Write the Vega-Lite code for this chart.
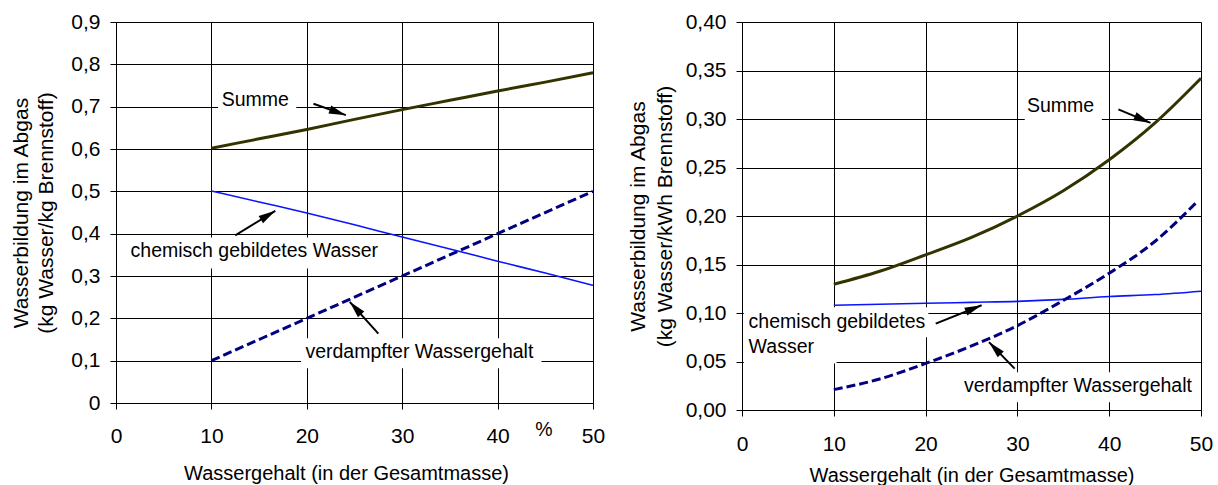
{
  "$schema": "https://vega.github.io/schema/vega-lite/v6.json",
  "background": "white",
  "padding": {"left": 10, "top": 11, "right": 5, "bottom": 5},
  "spacing": 22,
  "config": {
    "font": "Liberation Sans",
    "view": {"stroke": null},
    "axis": {
      "domainColor": "#000000", "tickColor": "#000000", "gridColor": "#000000",
      "gridOpacity": 1, "gridWidth": 1, "domainWidth": 1, "tickWidth": 1,
      "labelColor": "#000000", "titleColor": "#000000",
      "labelFont": "Liberation Sans", "titleFont": "Liberation Sans",
      "labelFontSize": 21, "titleFontSize": 20, "titleFontWeight": "normal",
      "tickSize": 6, "labelFlush": false, "labelOverlap": false
    },
    "text": {"font": "Liberation Sans", "fontSize": 19.5, "color": "#000000"}
  },
  "datasets": {
    "L_lines": [
      {"series": "Summe", "x": 10, "y": 0.602}, {"series": "Summe", "x": 15, "y": 0.624},
      {"series": "Summe", "x": 20, "y": 0.646}, {"series": "Summe", "x": 25, "y": 0.670},
      {"series": "Summe", "x": 30, "y": 0.693}, {"series": "Summe", "x": 35, "y": 0.715},
      {"series": "Summe", "x": 40, "y": 0.737}, {"series": "Summe", "x": 45, "y": 0.758},
      {"series": "Summe", "x": 50, "y": 0.780},
      {"series": "chem", "x": 10, "y": 0.501}, {"series": "chem", "x": 15, "y": 0.475},
      {"series": "chem", "x": 20, "y": 0.449}, {"series": "chem", "x": 25, "y": 0.421},
      {"series": "chem", "x": 30, "y": 0.392}, {"series": "chem", "x": 35, "y": 0.364},
      {"series": "chem", "x": 40, "y": 0.335}, {"series": "chem", "x": 45, "y": 0.307},
      {"series": "chem", "x": 50, "y": 0.278},
      {"series": "verd", "x": 10, "y": 0.1}, {"series": "verd", "x": 20, "y": 0.2},
      {"series": "verd", "x": 30, "y": 0.3}, {"series": "verd", "x": 40, "y": 0.4},
      {"series": "verd", "x": 50, "y": 0.5}
    ],
    "L_notes": [
      {"kind": "box", "x": 10.7, "x2": 18.9, "y": 0.687, "y2": 0.758},
      {"kind": "box", "x": 1.05, "x2": 27.7, "y": 0.318, "y2": 0.391},
      {"kind": "box", "x": 19.4, "x2": 44.6, "y": 0.082, "y2": 0.153},
      {"kind": "label", "x": 14.6, "y": 0.715, "text": "Summe"},
      {"kind": "label", "x": 14.5, "y": 0.358, "text": "chemisch gebildetes Wasser"},
      {"kind": "label", "x": 31.8, "y": 0.1205, "text": "verdampfter Wassergehalt"},
      {"kind": "label", "x": 44.85, "y": -0.0645, "text": "%"},
      {"kind": "arrow", "id": "summe", "x": 24.1, "y": 0.680, "x2": 20.7, "y2": 0.707},
      {"kind": "arrow", "id": "chem", "x": 16.7, "y": 0.454, "x2": 12.5, "y2": 0.396},
      {"kind": "arrow", "id": "verd", "x": 24.5, "y": 0.239, "x2": 27.5, "y2": 0.164}
    ],
    "R_lines": [
      {"series": "Summe", "x": 10, "y": 0.1296}, {"series": "Summe", "x": 15, "y": 0.143},
      {"series": "Summe", "x": 20, "y": 0.160}, {"series": "Summe", "x": 25, "y": 0.178},
      {"series": "Summe", "x": 30, "y": 0.200}, {"series": "Summe", "x": 35, "y": 0.226},
      {"series": "Summe", "x": 40, "y": 0.258}, {"series": "Summe", "x": 45, "y": 0.296},
      {"series": "Summe", "x": 50, "y": 0.342},
      {"series": "chem", "x": 10, "y": 0.108}, {"series": "chem", "x": 15, "y": 0.109},
      {"series": "chem", "x": 20, "y": 0.110}, {"series": "chem", "x": 25, "y": 0.111},
      {"series": "chem", "x": 30, "y": 0.112}, {"series": "chem", "x": 35, "y": 0.114},
      {"series": "chem", "x": 40, "y": 0.117}, {"series": "chem", "x": 45, "y": 0.119},
      {"series": "chem", "x": 50, "y": 0.1225},
      {"series": "verd", "x": 10, "y": 0.021}, {"series": "verd", "x": 15, "y": 0.032},
      {"series": "verd", "x": 20, "y": 0.048}, {"series": "verd", "x": 25, "y": 0.066},
      {"series": "verd", "x": 30, "y": 0.087}, {"series": "verd", "x": 35, "y": 0.113},
      {"series": "verd", "x": 40, "y": 0.141}, {"series": "verd", "x": 45, "y": 0.174},
      {"series": "verd", "x": 49.5, "y": 0.214}
    ],
    "R_notes": [
      {"kind": "box", "x": 30.8, "x2": 39.2, "y": 0.295, "y2": 0.33},
      {"kind": "box", "x": 0.2, "x2": 20.3, "y": 0.075, "y2": 0.106},
      {"kind": "box", "x": 0.2, "x2": 10.3, "y": 0.048, "y2": 0.08},
      {"kind": "box", "x": 23.6, "x2": 49.5, "y": 0.008, "y2": 0.039},
      {"kind": "label", "x": 34.7, "y": 0.313, "text": "Summe"},
      {"kind": "label", "x": 36.6, "y": 0.0247, "text": "verdampfter Wassergehalt"},
      {"kind": "labelLeft", "x": 0.72, "y": 0.0907, "text": "chemisch gebildetes"},
      {"kind": "labelLeft", "x": 0.72, "y": 0.065, "text": "Wasser"},
      {"kind": "arrow", "id": "summe", "x": 44.5, "y": 0.296, "x2": 41.0, "y2": 0.310},
      {"kind": "arrow", "id": "chem", "x": 26.1, "y": 0.108, "x2": 21.1, "y2": 0.089},
      {"kind": "arrow", "id": "verd", "x": 26.9, "y": 0.070, "x2": 29.7, "y2": 0.0426}
    ]
  },
  "hconcat": [
    {
      "width": 477,
      "height": 381,
      "encoding": {
        "x": {
          "field": "x", "type": "quantitative",
          "scale": {"domain": [0, 50], "nice": false, "zero": false},
          "axis": {
            "values": [0, 10, 20, 30, 40, 50], "grid": true,
            "title": "Wassergehalt (in der Gesamtmasse)",
            "labelPadding": 16, "titlePadding": 17, "titleX": 230
          }
        },
        "y": {
          "field": "y", "type": "quantitative",
          "scale": {"domain": [0, 0.9], "nice": false, "zero": false},
          "axis": {
            "values": [0, 0.1, 0.2, 0.3, 0.4, 0.5, 0.6, 0.7, 0.8, 0.9], "grid": true,
            "labelExpr": "datum.value == 0 ? '0' : replace(format(datum.value, '.1f'), '.', ',')",
            "title": ["Wasserbildung im Abgas", "(kg Wasser/kg Brennstoff)"],
            "titleFontSize": 21, "titleLineHeight": 25,
            "labelPadding": 10, "titlePadding": 14
          }
        }
      },
      "layer": [
        {
          "data": {"name": "L_notes"},
          "transform": [{"filter": "datum.kind == 'box'"}],
          "mark": {"type": "rect", "fill": "white", "stroke": null},
          "encoding": {"x2": {"field": "x2"}, "y2": {"field": "y2"}}
        },
        {
          "data": {"name": "L_lines"},
          "transform": [{"filter": "datum.series == 'Summe'"}],
          "mark": {"type": "line", "color": "#333300", "strokeWidth": 3, "interpolate": "monotone"}
        },
        {
          "data": {"name": "L_lines"},
          "transform": [{"filter": "datum.series == 'chem'"}],
          "mark": {"type": "line", "color": "#0a14ff", "strokeWidth": 1.6, "interpolate": "monotone"}
        },
        {
          "data": {"name": "L_lines"},
          "transform": [{"filter": "datum.series == 'verd'"}],
          "mark": {"type": "line", "color": "#000080", "strokeWidth": 3, "strokeDash": [9, 4], "interpolate": "monotone"}
        },
        {
          "data": {"name": "L_notes"},
          "transform": [{"filter": "datum.kind == 'arrow'"}],
          "mark": {"type": "rule", "color": "#000000", "strokeWidth": 2},
          "encoding": {"x2": {"field": "x2"}, "y2": {"field": "y2"}}
        },
        {
          "data": {"name": "L_notes"},
          "transform": [{"filter": "datum.id == 'summe'"}],
          "mark": {"type": "point", "shape": "M0,0L-2,-0.5L-2,0.5Z", "size": 289, "filled": true, "color": "#000000", "opacity": 1, "strokeWidth": 0, "angle": 19.5}
        },
        {
          "data": {"name": "L_notes"},
          "transform": [{"filter": "datum.id == 'chem'"}],
          "mark": {"type": "point", "shape": "M0,0L-2,-0.5L-2,0.5Z", "size": 289, "filled": true, "color": "#000000", "opacity": 1, "strokeWidth": 0, "angle": -31.5}
        },
        {
          "data": {"name": "L_notes"},
          "transform": [{"filter": "datum.id == 'verd'"}],
          "mark": {"type": "point", "shape": "M0,0L-2,-0.5L-2,0.5Z", "size": 289, "filled": true, "color": "#000000", "opacity": 1, "strokeWidth": 0, "angle": -132}
        },
        {
          "data": {"name": "L_notes"},
          "transform": [{"filter": "datum.kind == 'label'"}],
          "mark": {"type": "text", "align": "center", "baseline": "middle"},
          "encoding": {"text": {"field": "text"}}
        }
      ]
    },
    {
      "width": 459,
      "height": 388,
      "encoding": {
        "x": {
          "field": "x", "type": "quantitative",
          "scale": {"domain": [0, 50], "nice": false, "zero": false},
          "axis": {
            "values": [0, 10, 20, 30, 40, 50], "grid": true,
            "title": "Wassergehalt (in der Gesamtmasse)",
            "labelPadding": 17, "titlePadding": 11
          }
        },
        "y": {
          "field": "y", "type": "quantitative",
          "scale": {"domain": [0, 0.4], "nice": false, "zero": false},
          "axis": {
            "values": [0, 0.05, 0.1, 0.15, 0.2, 0.25, 0.3, 0.35, 0.4], "grid": true,
            "labelExpr": "replace(format(datum.value, '.2f'), '.', ',')",
            "title": ["Wasserbildung im Abgas", "(kg Wasser/kWh Brennstoff)"],
            "titleFontSize": 21, "titleLineHeight": 26.5,
            "labelPadding": 10, "titlePadding": 10
          }
        }
      },
      "layer": [
        {
          "data": {"name": "R_notes"},
          "transform": [{"filter": "datum.kind == 'box'"}],
          "mark": {"type": "rect", "fill": "white", "stroke": null},
          "encoding": {"x2": {"field": "x2"}, "y2": {"field": "y2"}}
        },
        {
          "data": {"name": "R_lines"},
          "transform": [{"filter": "datum.series == 'Summe'"}],
          "mark": {"type": "line", "color": "#333300", "strokeWidth": 3, "interpolate": "monotone"}
        },
        {
          "data": {"name": "R_lines"},
          "transform": [{"filter": "datum.series == 'chem'"}],
          "mark": {"type": "line", "color": "#0a14ff", "strokeWidth": 1.6, "interpolate": "monotone"}
        },
        {
          "data": {"name": "R_lines"},
          "transform": [{"filter": "datum.series == 'verd'"}],
          "mark": {"type": "line", "color": "#000080", "strokeWidth": 3, "strokeDash": [9, 4], "interpolate": "monotone"}
        },
        {
          "data": {"name": "R_notes"},
          "transform": [{"filter": "datum.kind == 'arrow'"}],
          "mark": {"type": "rule", "color": "#000000", "strokeWidth": 2},
          "encoding": {"x2": {"field": "x2"}, "y2": {"field": "y2"}}
        },
        {
          "data": {"name": "R_notes"},
          "transform": [{"filter": "datum.id == 'summe'"}],
          "mark": {"type": "point", "shape": "M0,0L-2,-0.5L-2,0.5Z", "size": 289, "filled": true, "color": "#000000", "opacity": 1, "strokeWidth": 0, "angle": 23}
        },
        {
          "data": {"name": "R_notes"},
          "transform": [{"filter": "datum.id == 'chem'"}],
          "mark": {"type": "point", "shape": "M0,0L-2,-0.5L-2,0.5Z", "size": 289, "filled": true, "color": "#000000", "opacity": 1, "strokeWidth": 0, "angle": -22}
        },
        {
          "data": {"name": "R_notes"},
          "transform": [{"filter": "datum.id == 'verd'"}],
          "mark": {"type": "point", "shape": "M0,0L-2,-0.5L-2,0.5Z", "size": 289, "filled": true, "color": "#000000", "opacity": 1, "strokeWidth": 0, "angle": -134}
        },
        {
          "data": {"name": "R_notes"},
          "transform": [{"filter": "datum.kind == 'label'"}],
          "mark": {"type": "text", "align": "center", "baseline": "middle"},
          "encoding": {"text": {"field": "text"}}
        },
        {
          "data": {"name": "R_notes"},
          "transform": [{"filter": "datum.kind == 'labelLeft'"}],
          "mark": {"type": "text", "align": "left", "baseline": "middle"},
          "encoding": {"text": {"field": "text"}}
        }
      ]
    }
  ]
}
